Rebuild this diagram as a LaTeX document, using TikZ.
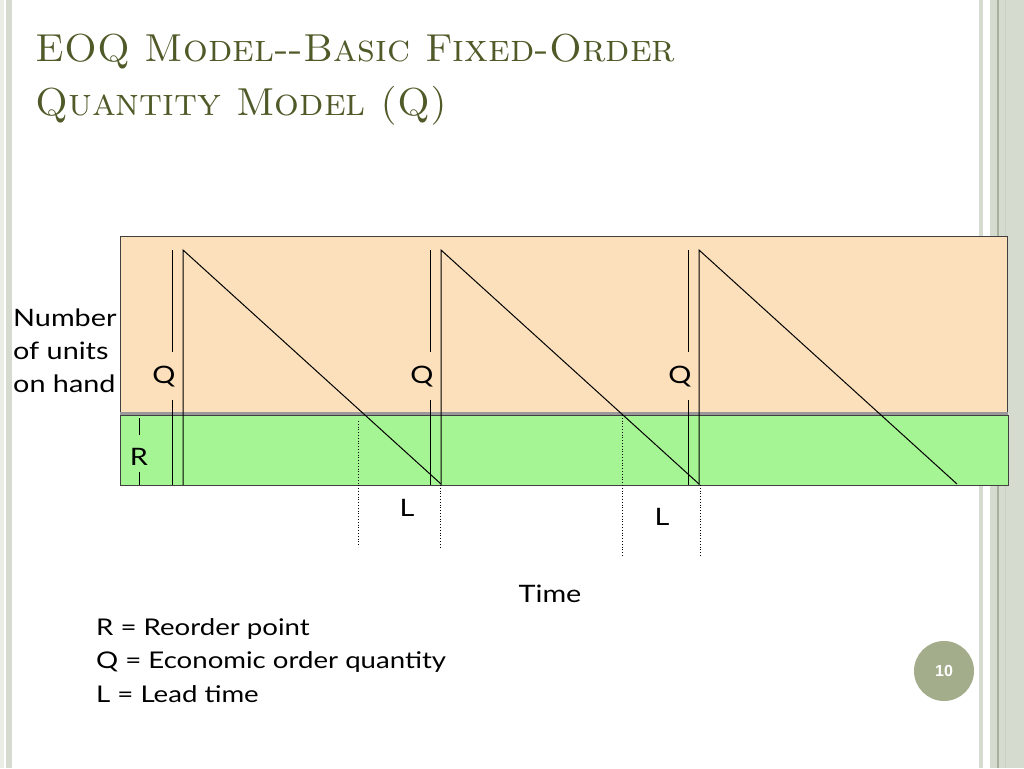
\documentclass[tikz,border=0pt]{standalone}
\usepackage{fontspec}
\newfontfamily\handfont[FakeStretch=1.2]{Lato}
\newfontfamily\numfont{Liberation Sans}
\usetikzlibrary{positioning}
\definecolor{titlegreen}{RGB}{79,90,40}
\definecolor{stockorange}{RGB}{251,224,187}
\definecolor{safetygreen}{RGB}{166,245,148}
\definecolor{stripegrey}{RGB}{214,219,207}
\definecolor{stripedark}{RGB}{167,176,156}
\definecolor{pagegreen}{RGB}{163,173,140}
\tikzset{
  lbl/.style={font=\handfont\fontsize{24}{33}\selectfont, inner sep=0pt},
  keytext/.style={font=\handfont\fontsize{23}{33.5}\selectfont, inner sep=0pt, align=left},
  titletext/.style={font=\fontsize{39}{53}\selectfont\scshape, text=titlegreen, inner sep=0pt},
  cycleline/.style={line width=1pt},
  leadline/.style={dotted, line width=0.8pt},
}
\begin{document}
\begin{tikzpicture}[x=1pt,y=-1pt]
\useasboundingbox (0,0) rectangle (1024,768);
% side stripes
\fill[stripegrey!50] (0,0) rectangle (4,768);
\fill[stripegrey] (6,0) rectangle (12,768);
\fill[stripegrey] (979,0) rectangle (983,768);
\fill[stripegrey] (990,0) rectangle (1024,768);
\draw[stripedark, line width=2pt] (998,0) -- (998,768);
\draw[stripedark!60, line width=1pt] (1005,0) -- (1005,768);

% title
\node[titletext, anchor=base west] (title1) at (35,62) {EOQ Model-{}-Basic Fixed-Order};
\node[titletext, anchor=base west] (title2) at (35,115) {Quantity Model (Q)};

% stock and reorder bands
\draw[fill=stockorange, draw=black!75] (120,236) rectangle (1007,412);
\fill[black!40] (120,412) rectangle (1008,415);
\draw[fill=safetygreen, draw=black!75] (120,415) rectangle (1008,485);

% saw teeth
\foreach \c in {0,1,2} {
	\pgfmathsetmacro\xo{183+258*\c}
	\draw[cycleline] (\xo,485) -- (\xo,250) -- (\xo+258,484);
	\draw (\xo-11,250) -- (\xo-11,352);
	\node[lbl] (q\c) at (\xo-19,377) {Q};
	\draw (\xo-11,400) -- (\xo-11,485);
}

% lead times
\draw[leadline] (358,421) -- (358,547);
\draw[leadline] (440,485) -- (440,547);
\draw[leadline] (622,415) -- (622,557);
\draw[leadline] (700,485) -- (700,557);
\node[lbl] (lead1) at (407,508) {L};
\node[lbl] (lead2) at (662,517) {L};

% reorder point
\draw (139,418) -- (139,435);
\node[lbl] (reorder) at (139,457) {R};
\draw (139,472) -- (139,485);

% axis texts
\node[lbl, align=left, anchor=north west] (units) at (13,309) {Number\\of units\\on hand};
\node[lbl] (time) at (550,594) {Time};
\node[keytext, anchor=north west] (key) at (96,618) {R = Reorder point\\Q = Economic order quantity\\L = Lead time};

% page number
\node[circle, fill=pagegreen, minimum size=60pt, inner sep=0pt, text=white, font=\numfont\bfseries\fontsize{16}{16}\selectfont] (page) at (944,671) {10};
\end{tikzpicture}
\end{document}
